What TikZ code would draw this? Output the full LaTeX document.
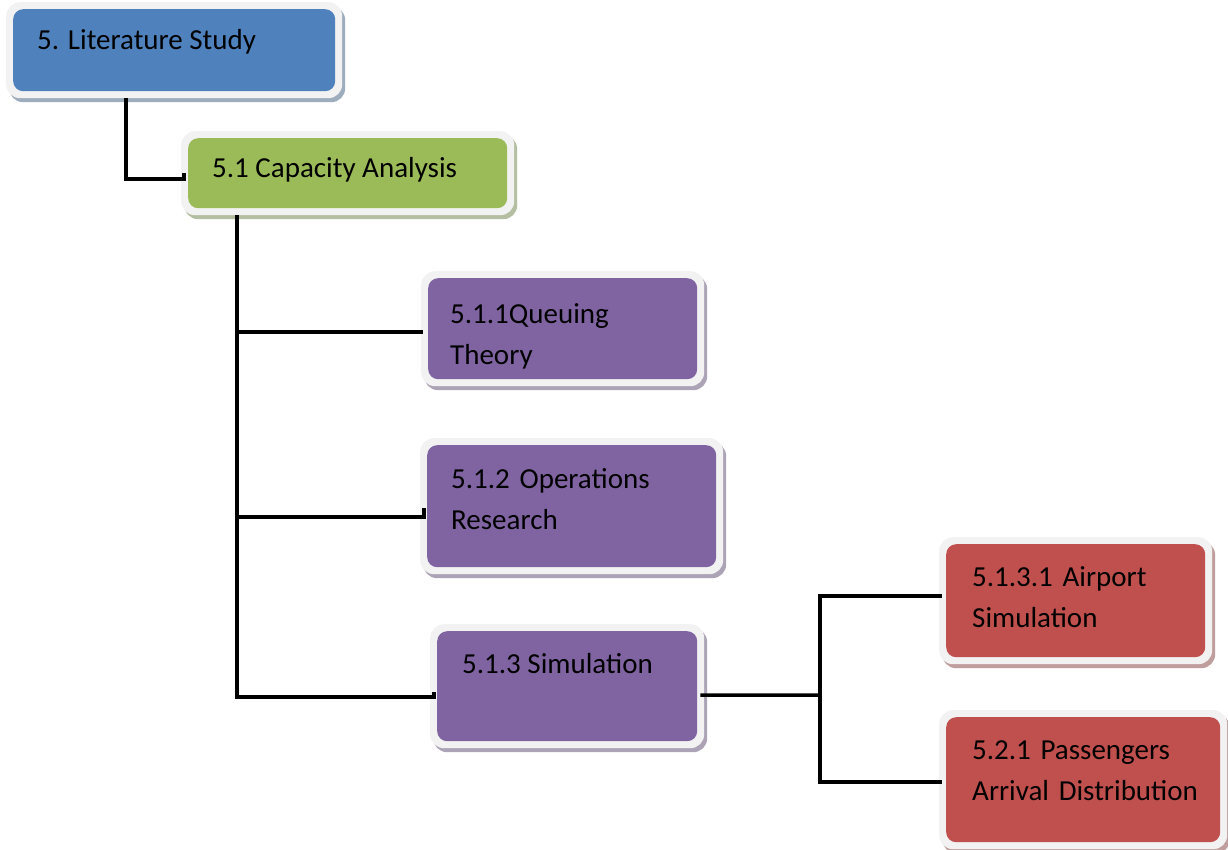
\documentclass[tikz,border=0pt]{standalone}
\usepackage{fontspec}
\setmainfont{Carlito}
\usetikzlibrary{shadows,calc}

\definecolor{cblue}{HTML}{4F81BD}
\definecolor{cgreen}{HTML}{9BBB59}
\definecolor{cpurple}{HTML}{8064A2}
\definecolor{cred}{HTML}{C0504D}
\definecolor{bord}{HTML}{F2F2F2}

\tikzset{
  % bevelled box: light frame, coloured face, offset shadow
  box/.style={shape=rectangle, rounded corners=14pt, fill=bord, inner sep=0pt,
    anchor=north west,
    drop shadow={shadow xshift=3pt, shadow yshift=-4pt,
                 fill=#1!45!gray!65!white, opacity=1},
    path picture={\fill[#1, rounded corners=10pt]
      ([shift={(7pt,-7pt)}]path picture bounding box.north west) rectangle
      ([shift={(-7pt,7pt)}]path picture bounding box.south east);}},
  txt/.style={anchor=base west, inner sep=0pt, text=black,
    font=\fontsize{29pt}{41pt}\selectfont},
  txtm/.style={txt, text width=280pt, align=left},
  conn/.style={draw=black, line width=3.5pt},
}

\begin{document}
\begin{tikzpicture}[x=1pt, y=-1pt]
\useasboundingbox (0,0) rectangle (1228,850);
\fill[white] (0,0) rectangle (1228,850);

% boxes
\node[box=cblue,   minimum width=336pt, minimum height=96pt]  (lit) at (6,2) {};
\node[box=cgreen,  minimum width=333pt, minimum height=84pt]  (cap) at (181,131) {};
\node[box=cpurple, minimum width=283pt, minimum height=115pt] (que) at (421,271) {};
\node[box=cpurple, minimum width=303pt, minimum height=136pt] (ops) at (420,438) {};
\node[box=cpurple, minimum width=274pt, minimum height=124pt] (sim) at (430,624) {};
\node[box=cred,    minimum width=273pt, minimum height=127pt] (air) at (939,537) {};
\node[box=cred,    minimum width=288pt, minimum height=139pt] (pas) at (939,710) {};

% labels
\node[txt]  (lit-t) at (37,50)   {5. Literature Study};
\node[txt]  (cap-t) at (212,178) {5.1 Capacity Analysis};
\node[txtm] (que-t) at (450,323) {5.1.1Queuing\\Theory};
\node[txtm] (ops-t) at (451,488) {5.1.2 Operations\\Research};
\node[txt]  (sim-t) at (462,673) {5.1.3 Simulation};
\node[txtm] (air-t) at (972,586) {5.1.3.1 Airport\\Simulation};
\node[txtm] (pas-t) at (972,759) {5.2.1 Passengers\\Arrival Distribution};

% connectors
\draw[conn] ([xshift=120pt]lit.south west) |- ([shift={(3pt,-6pt)}]cap.west) -- ([xshift=3pt]cap.west);
\draw[conn] ([xshift=56pt]cap.south west) |- ([shift={(2pt,-3.5pt)}]que.west);
\draw[conn] ([xshift=56pt]cap.south west) |- ([shift={(4pt,-11pt)}]ops.west) -- ([shift={(4pt,-2pt)}]ops.west);
\draw[conn] ([xshift=56pt]cap.south west) |- ([shift={(4pt,-11pt)}]sim.west) -- ([shift={(4pt,-6pt)}]sim.west);
\coordinate (fork) at (820,695);
\draw[conn] ([shift={(-4pt,-9pt)}]sim.east) -- (fork);
\draw[conn] (fork) |- ([shift={(3pt,4.5pt)}]air.west);
\draw[conn] (fork) |- ([shift={(3pt,-2.5pt)}]pas.west);
\end{tikzpicture}
\end{document}
